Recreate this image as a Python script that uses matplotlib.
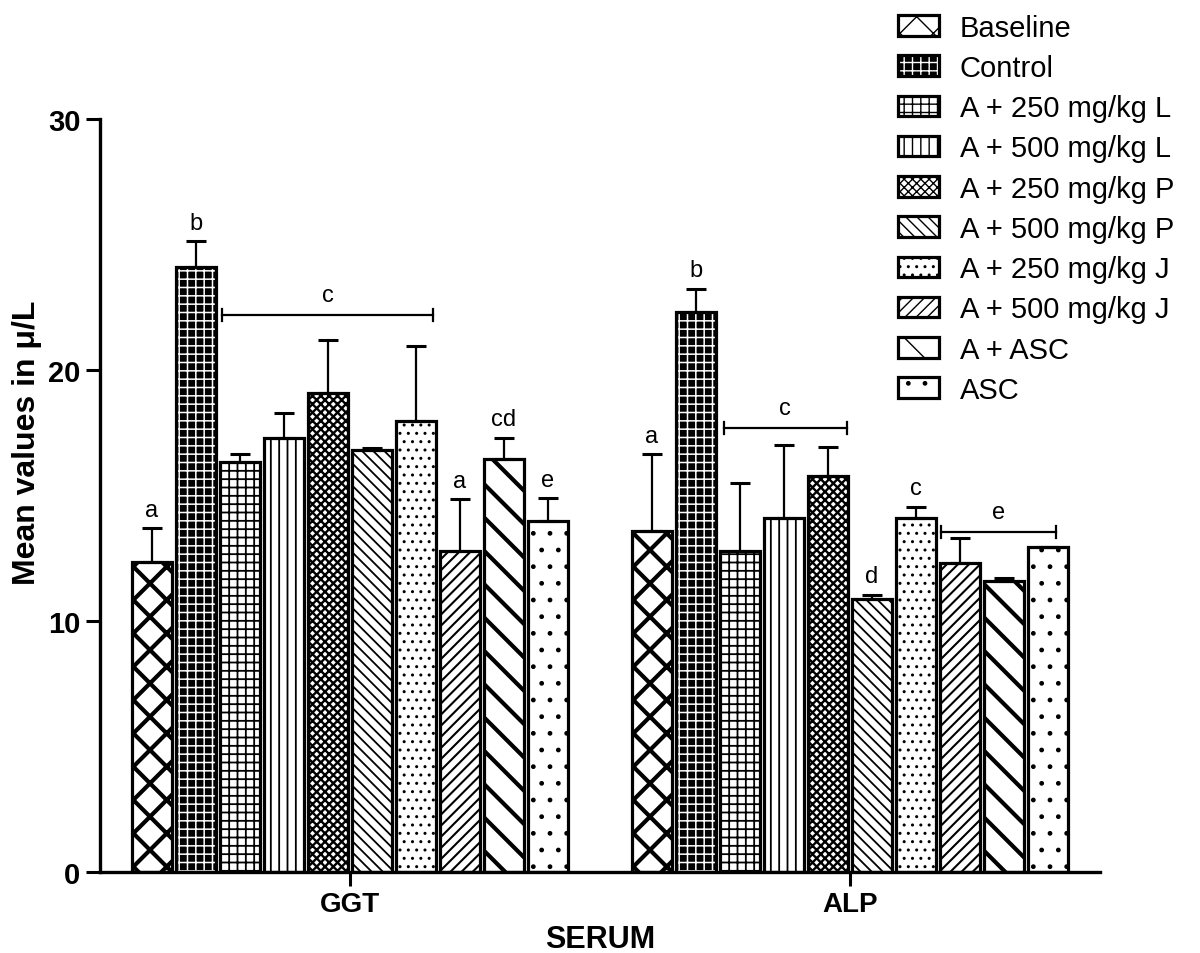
import numpy as np
import matplotlib
matplotlib.use("Agg")
import matplotlib.pyplot as plt
import matplotlib.patches as mpatches
from matplotlib.legend_handler import HandlerTuple

plt.rcParams['font.family'] = ['Liberation Sans', 'DejaVu Sans']

# data
groups = ["GGT", "ALP"]
treatments = ["Baseline", "Control", "A + 250 mg/kg L", "A + 500 mg/kg L",
              "A + 250 mg/kg P", "A + 500 mg/kg P", "A + 250 mg/kg J",
              "A + 500 mg/kg J", "A + ASC", "ASC"]
ggt_mean = [12.35, 24.1, 16.33, 17.3, 19.1, 16.8, 17.97, 12.8, 16.45, 14.0]
ggt_err = [1.35, 1.04, 0.32, 1.0, 2.1, 0.1, 3.0, 2.05, 0.85, 0.9]
alp_mean = [13.6, 22.3, 12.8, 14.1, 15.8, 10.9, 14.1, 12.3, 11.6, 12.95]
alp_err = [3.05, 0.95, 2.7, 2.9, 1.15, 0.15, 0.45, 1.0, 0.12, 0.0]

# significance letters: (group, bar index, letter)
letters = [(0, 0, "a"), (0, 1, "b"), (0, 7, "a"), (0, 8, "cd"), (0, 9, "e"),
           (1, 0, "a"), (1, 1, "b"), (1, 5, "d"), (1, 6, "c")]
# brackets: (group, x from, x to (relative to group centre), y, letter)
brackets = [(0, -0.255, 0.166, 22.2, "c"),
            (1, -0.252, -0.006, 17.7, "c"),
            (1, 0.183, 0.413, 13.55, "e")]

# hatch style per treatment: (hatch, hatch linewidth)
hatches = [("x", 3.0), ("++", 1.1), ("++", 1.3), ("||", 1.3), ("xxxx", 1.7),
           ("\\\\\\", 1.3), ("..", 1.0), ("///", 1.5), ("\\", 3.0), (".", 1.0)]

pitch = 0.088
width = 0.081


def set_hlw(p, lw):
    if hasattr(p, "set_hatch_linewidth"):
        p.set_hatch_linewidth(lw)


fig = plt.figure(figsize=(12, 9.54), dpi=100)
ax = fig.add_axes([0.0833, 0.0849, 0.8333, 0.789])

means = np.array([ggt_mean, alp_mean])
errs = np.array([ggt_err, alp_err])
x_groups = np.arange(len(groups))
handles = []

for i, name in enumerate(treatments):
    xs = x_groups + (i - 4.5) * pitch
    h, hlw = hatches[i]
    if name == "Control":
        back = ax.bar(xs, means[:, i], width, color="black", edgecolor="white",
                      linewidth=0, hatch=h, zorder=2)
        ax.bar(xs, means[:, i], width, facecolor="none", edgecolor="black",
               linewidth=2.3, zorder=3)
        for p in back:
            set_hlw(p, hlw)
        hb = mpatches.Patch(facecolor="black", edgecolor="white", linewidth=0, hatch=h)
        hf = mpatches.Patch(facecolor="none", edgecolor="black", linewidth=2.3)
        set_hlw(hb, hlw)
        handles.append((hb, hf))
    else:
        bars = ax.bar(xs, means[:, i], width, color="white", edgecolor="black",
                      linewidth=2.3, hatch=h, zorder=2)
        for p in bars:
            set_hlw(p, hlw)
        hp = mpatches.Patch(facecolor="white", edgecolor="black", linewidth=2.3, hatch=h)
        set_hlw(hp, hlw)
        handles.append(hp)
    ax.errorbar(xs, means[:, i], yerr=[np.zeros(2), errs[:, i]], fmt="none",
                ecolor="black", elinewidth=1.6, capsize=7, capthick=2.2, zorder=4)

for g, i, lab in letters:
    x = x_groups[g] + (i - 4.5) * pitch
    ax.text(x, means[g, i] + errs[g, i] + 0.3, lab, ha="center", va="bottom",
            fontsize=17)

for g, x0, x1, y, lab in brackets:
    ax.plot([x_groups[g] + x0, x_groups[g] + x1], [y, y], color="black", lw=1.6)
    for xe in (x0, x1):
        ax.plot([x_groups[g] + xe] * 2, [y - 0.25, y + 0.25], color="black", lw=1.6)
    ax.text(x_groups[g] + (x0 + x1) / 2, y + 0.35, lab, ha="center", va="bottom",
            fontsize=17)

ax.set_xlim(-0.5, 1.5)
ax.set_ylim(0, 30)
ax.set_yticks([0, 10, 20, 30])
ax.set_xticks(x_groups)
ax.set_xticklabels(groups, fontsize=20, fontweight="bold")
for t in ax.get_yticklabels():
    t.set_fontsize(21)
    t.set_fontweight("bold")
ax.tick_params(axis="both", length=10, width=2.2, direction="out", pad=4)
ax.spines["top"].set_visible(False)
ax.spines["right"].set_visible(False)
ax.spines["left"].set_linewidth(2.4)
ax.spines["bottom"].set_linewidth(2.4)
ax.set_xlabel("SERUM", fontsize=22, fontweight="bold", va="top")
ax.xaxis.set_label_coords(0.5, -0.069)
ax.set_ylabel("Mean values in μ/L", fontsize=23, fontweight="bold")
ax.yaxis.set_label_coords(-0.058, 0.572)

fig.legend(handles, treatments, loc="upper left", bbox_to_anchor=(0.739, 0.997),
           frameon=False, fontsize=21, handlelength=1.4, handleheight=0.7,
           labelspacing=0.42, handletextpad=0.7, borderaxespad=0,
           handler_map={tuple: HandlerTuple(ndivide=1)})

fig.savefig("out.png", dpi=100)
